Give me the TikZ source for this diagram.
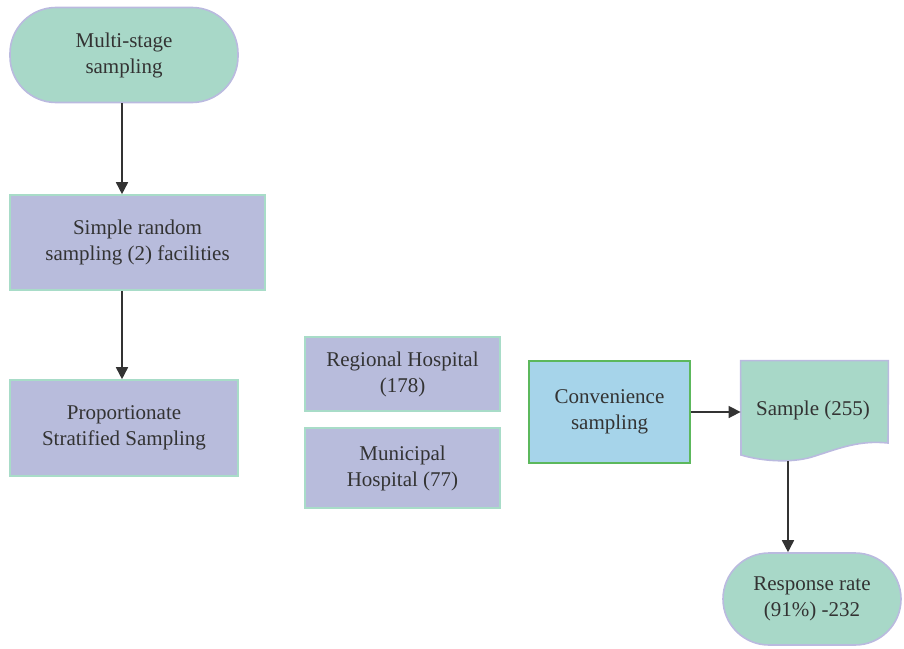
\documentclass[tikz,border=0pt]{standalone}
\usepackage{fontspec}
\setmainfont{Liberation Serif}
\usepackage{tikz}
\usetikzlibrary{positioning,arrows.meta,calc}
\definecolor{termfill}{HTML}{A8D8C8}
\definecolor{termdraw}{HTML}{BABADF}
\definecolor{procfill}{HTML}{B8BCDC}
\definecolor{procdraw}{HTML}{A8DCC8}
\definecolor{convfill}{HTML}{A6D4EA}
\definecolor{convdraw}{HTML}{5CB85C}
\definecolor{txt}{HTML}{333333}

\begin{document}
\begin{tikzpicture}[
  x=0.5pt, y=-0.5pt,
  every node/.style={font=\fontsize{10.5}{13}\selectfont, text=txt, align=center},
  terminal/.style={draw=termdraw, fill=termfill, rounded corners=23pt, thick},
  process/.style={draw=procdraw, fill=procfill, thick},
  flowarrow/.style={-{Triangle[length=6pt, width=6pt]}, draw=txt, thick}
]
  \useasboundingbox (0,0) rectangle (904,648);

  % --- Left column ---
  \node[terminal, minimum width=114pt, minimum height=47.5pt] (multi) at (124,55)
    {Multi-stage\\sampling};
  \node[process, minimum width=127.5pt, minimum height=47.5pt] (srs) at (137.5,242.5)
    {Simple random\\sampling (2) facilities};
  \node[process, minimum width=114pt, minimum height=48pt] (strat) at (124,428)
    {Proportionate\\Stratified Sampling};

  % --- Hospitals ---
  \node[process, minimum width=97.5pt, minimum height=37pt] (regional) at (402.5,374)
    {Regional Hospital\\(178)};
  \node[process, minimum width=97.5pt, minimum height=40pt] (municipal) at (402.5,468)
    {Municipal\\Hospital (77)};

  % --- Right part ---
  \node[draw=convdraw, fill=convfill, thick, minimum width=80.5pt, minimum height=51pt]
    (conv) at (609.5,412) {Convenience\\sampling};
  \node[minimum width=73.5pt, minimum height=42pt] (sample) at (814.5,403) {};
  \draw[draw=termdraw, fill=termfill, thick]
    (sample.north west) -- (sample.north east) -- (888,443)
    .. controls (860,440) and (840,448) .. (815,456)
    .. controls (795,463) and (765,462) .. (741,455) -- cycle;
  \node at (813,410) {Sample (255)};
  \coordinate (sampleout) at (788,461);
  \node[terminal, minimum width=89pt, minimum height=46pt] (resp) at (812,599)
    {Response rate\\(91\%) -232};

  % --- Connectors ---
  \draw[flowarrow] (multi.south -| 122,0) -- (srs.north -| 122,0);
  \draw[flowarrow] (srs.south -| 122,0) -- (strat.north -| 122,0);
  \draw[flowarrow] (conv.east) -- (sample.west |- conv.east);
  \draw[flowarrow] (sampleout) -- (sampleout |- resp.north);

\end{tikzpicture}
\end{document}
